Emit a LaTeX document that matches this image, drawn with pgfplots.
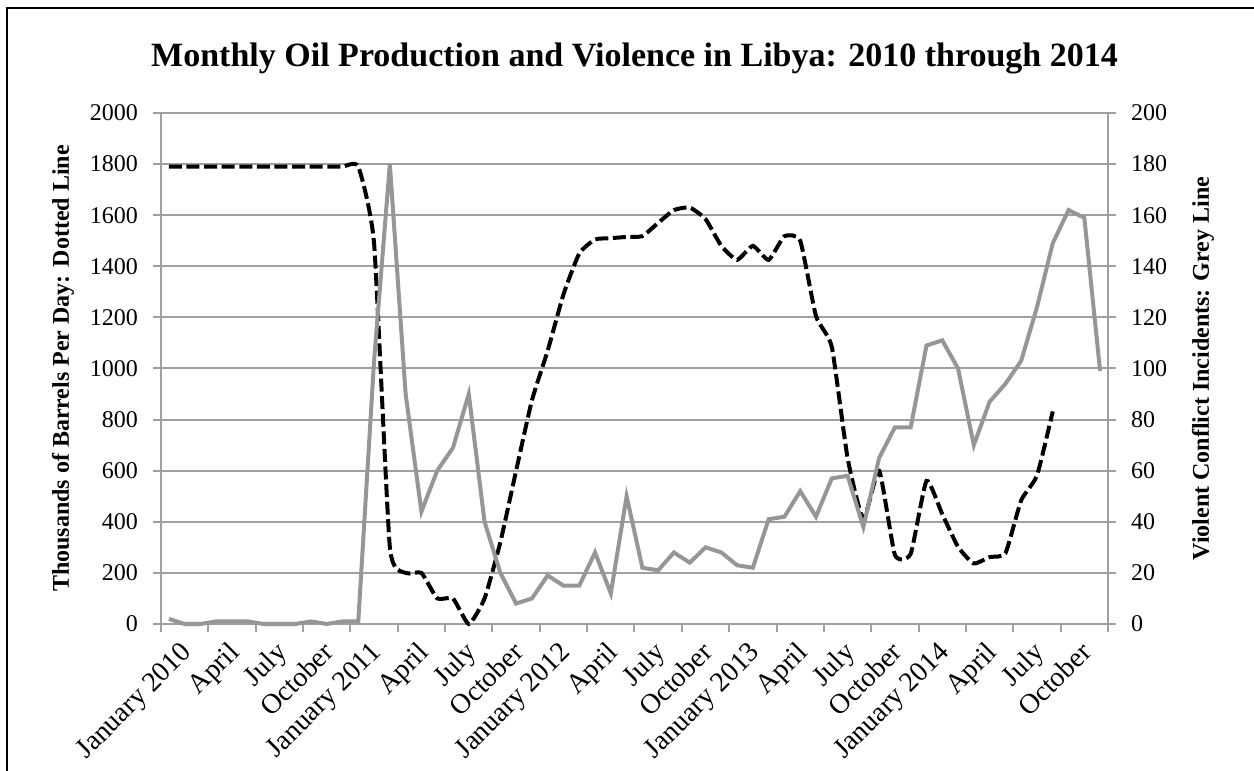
\documentclass[border=0pt]{standalone}
\usepackage{pgfplots}
\usepackage{pgfplotstable}
\pgfplotsset{compat=1.18}
\usepackage{fontspec}
\setmainfont{Liberation Serif}
\definecolor{gridgray}{RGB}{160,160,160}
\definecolor{linegray}{RGB}{150,150,150}

\pgfplotstableread{
i oil
0 1790
1 1790
2 1790
3 1790
4 1790
5 1790
6 1790
7 1790
8 1790
9 1790
10 1790
11 1790
12 1790
13 1490
14 300
15 200
16 200
17 100
18 100
19 0
20 100
21 320
22 600
23 875
24 1070
25 1290
26 1450
27 1505
28 1510
29 1515
30 1518
31 1570
32 1620
33 1630
34 1585
35 1480
36 1425
37 1480
38 1425
39 1518
40 1500
41 1205
42 1085
43 650
44 410
45 600
46 270
47 275
48 560
49 430
50 302
51 237
52 262
53 277
54 484
55 581
56 832
}\oiltable

\pgfplotstableread{
i inc
0 2
1 0
2 0
3 1
4 1
5 1
6 0
7 0
8 0
9 1
10 0
11 1
12 1
13 103
14 180
15 90
16 44
17 60
18 69
19 90
20 40
21 20
22 8
23 10
24 19
25 15
26 15
27 28
28 12
29 50
30 22
31 21
32 28
33 24
34 30
35 28
36 23
37 22
38 41
39 42
40 52
41 42
42 57
43 58
44 38
45 65
46 77
47 77
48 109
49 111
50 100
51 70
52 87
53 94
54 103
55 124
56 149
57 162
58 159
59 99
}\inctable

\pgfplotsset{
  common/.style={
    at={(0,0)}, anchor=south west,
    scale only axis, width=473.5bp, height=255.5bp,
    xmin=-0.5, xmax=59.5,
    clip=false,
    axis line style={gridgray, line width=1bp},
    tick style={gridgray, line width=1bp},
    major tick length=4bp,
    tick align=outside,
    tick label style={font=\fontsize{12bp}{14bp}\selectfont, text=black},
    label style={font=\bfseries\fontsize{12bp}{14bp}\selectfont},
    /pgf/number format/assume math mode=true,
    /pgf/number format/1000 sep={},
  }
}

\begin{document}
\begin{tikzpicture}
\path[use as bounding box] (-80.5bp,-73.5bp) rectangle (546.5bp,312bp);
\draw[line width=1.2bp] (-77bp,-80bp) -- (-77bp,308bp) -- (560bp,308bp);
\node[anchor=base, font=\bfseries\fontsize{17bp}{20bp}\selectfont] at (236.75bp,278.5bp)
  {Monthly Oil Production and Violence in Libya: 2010 through 2014};
\begin{axis}[common,
  ymin=0, ymax=2000,
  ytick={0,200,...,2000},
  axis y line*=left, axis x line*=bottom,
  ymajorgrids, grid style={gridgray, line width=1bp},
  xtick={-0.5,2.5,...,59.5}, xticklabels={},
  extra x ticks={0,3,...,57},
  extra x tick labels={January 2010,April,July,October,January 2011,April,July,October,January 2012,April,July,October,January 2013,April,July,October,January 2014,April,July,October},
  extra x tick style={major tick length=0pt, grid=none,
    tick label style={font=\fontsize{14bp}{16bp}\selectfont, rotate=45, anchor=north east, yshift=-6bp, xshift=1.5bp}},
  yticklabel style={xshift=-4bp},
  ylabel={Thousands of Barrels Per Day: Dotted Line},
  ylabel style={at={(axis description cs:-0.1035,0.5)}, anchor=center, rotate=0},
]
\addplot[black, line width=2bp, dash pattern=on 6.5bp off 2.3bp, smooth, tension=0.3]
  table[x=i, y=oil]{\oiltable};
\end{axis}
\begin{axis}[common,
  ymin=0, ymax=200,
  ytick={0,20,...,200},
  axis y line*=right, axis x line=none,
  yticklabel style={xshift=4bp},
  ylabel={Violent Conflict Incidents: Grey Line},
  ylabel style={at={(axis description cs:1.1003,0.5)}, anchor=center, rotate=0},
]
\addplot[linegray, line width=2bp] table[x=i, y=inc]{\inctable};
\end{axis}
\end{tikzpicture}
\end{document}
